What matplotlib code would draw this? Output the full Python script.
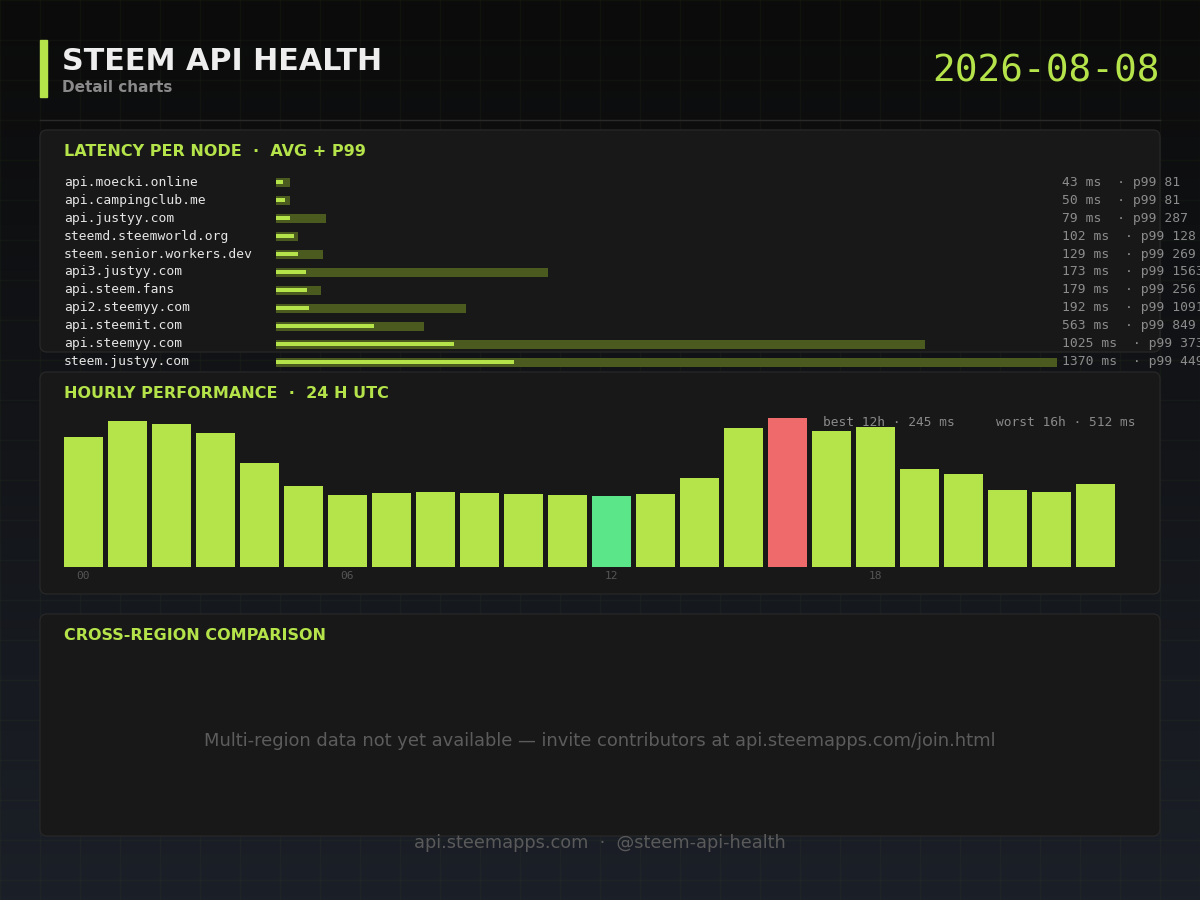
import numpy as np
import matplotlib
matplotlib.use("Agg")
import matplotlib.pyplot as plt
from matplotlib.patches import FancyBboxPatch, Rectangle
from matplotlib.transforms import blended_transform_factory

# ---- data ----
nodes = ["api.moecki.online", "api.campingclub.me", "api.justyy.com",
         "steemd.steemworld.org", "steem.senior.workers.dev", "api3.justyy.com",
         "api.steem.fans", "api2.steemyy.com", "api.steemit.com",
         "api.steemyy.com", "steem.justyy.com"]
avg_ms = [43, 50, 79, 102, 129, 173, 179, 192, 563, 1025, 1370]
p99_ms = [81, 81, 287, 128, 269, 1563, 256, 1091, 849, 3730, 4490]

hours = list(range(24))
hour_ms = [447, 502, 491, 460, 357, 278, 248, 254, 258, 254, 251, 247,
           245, 251, 306, 478, 512, 467, 481, 337, 320, 265, 258, 285]
hour_ticks = [0, 6, 12, 18]

report_date = "2026-08-08"

# ---- colours ----
GREEN = "#b5e34a"
P99_GREEN = "#4b5a1e"
BEST = "#5ce68a"
WORST = "#ef6b6b"
PANEL = "#181818"
PANEL_EDGE = "#262626"
MONO = "DejaVu Sans Mono"

W, H = 1200, 900
fig = plt.figure(figsize=(12, 9), dpi=100)


def px_axes(x0, y0, x1, y1):
    return fig.add_axes([x0 / W, 1 - y1 / H, (x1 - x0) / W, (y1 - y0) / H])


# background canvas in pixel coordinates
bg = fig.add_axes([0, 0, 1, 1])
bg.set_xlim(0, W)
bg.set_ylim(H, 0)
bg.axis("off")
top = np.array([11, 11, 11]) / 255
bot = np.array([27, 31, 39]) / 255
t = np.linspace(0, 1, 256)[:, None]
grad = (top[None, :] * (1 - t) + bot[None, :] * t)[:, None, :]
bg.imshow(grad, extent=(0, W, H, 0), aspect="auto", zorder=0)
for g in range(0, W + 1, 40):
    bg.axvline(g, color="#9adc3c", alpha=0.035, lw=1, zorder=1)
for g in range(0, H + 1, 40):
    bg.axhline(g, color="#9adc3c", alpha=0.035, lw=1, zorder=1)

# header
bg.add_patch(Rectangle((40, 40), 7, 57, color=GREEN, zorder=3))
bg.text(62, 62, "STEEM API HEALTH", color="#eeeeee", fontsize=21.7,
        fontweight="bold", va="center", ha="left", zorder=3)
bg.text(62, 88, "Detail charts", color="#8a8a8a", fontsize=11,
        fontweight="bold", va="center", ha="left", zorder=3)
bg.text(1160, 71, report_date, color=GREEN, fontsize=27.2, family=MONO,
        va="center", ha="right", zorder=3)
bg.plot([40, 1160], [120, 120], color="#2a2a2a", lw=1, zorder=3)

# panels
panels = [(130, 352, "LATENCY PER NODE  ·  AVG + P99"),
          (372, 594, "HOURLY PERFORMANCE  ·  24 H UTC"),
          (614, 836, "CROSS-REGION COMPARISON")]
for y0, y1, title in panels:
    bg.add_patch(FancyBboxPatch((40, y0), 1120, y1 - y0,
                                boxstyle="round,pad=0,rounding_size=7",
                                fc=PANEL, ec=PANEL_EDGE, lw=1, zorder=2))
    bg.text(64, y0 + 22, title, color=GREEN, fontsize=11.5, fontweight="bold",
            va="center", ha="left", zorder=3)

# ---- latency per node ----
ax1 = px_axes(276, 173, 1057, 371)
ax1.set_xlim(0, max(p99_ms))
ax1.set_ylim(len(nodes) - 0.5, -0.5)
ax1.axis("off")
ax1.patch.set_alpha(0)
ypos = np.arange(len(nodes))
ax1.barh(ypos, p99_ms, height=0.5, color=P99_GREEN, left=0)
ax1.barh(ypos, avg_ms, height=0.24, color=GREEN, left=0)
tr = blended_transform_factory(bg.transData, ax1.transData)
for i, name in enumerate(nodes):
    ax1.text(64, i, name, transform=tr, family=MONO, fontsize=9.4,
             color="#e6e6e6", va="center", ha="left", clip_on=False)
    # the reference lets these run past the right edge, so they do here too
    ax1.text(1062, i, f"{avg_ms[i]} ms  · p99 {p99_ms[i]}", transform=tr,
             family=MONO, fontsize=9.4, color="#8c8c8c", va="center",
             ha="left", clip_on=False)

# ---- hourly performance ----
best_h = int(np.argmin(hour_ms))
worst_h = int(np.argmax(hour_ms))
colors = [GREEN] * 24
colors[best_h] = BEST
colors[worst_h] = WORST

ax2 = px_axes(64, 392, 1115, 567)
ax2.patch.set_alpha(0)
ax2.bar(hours, hour_ms, width=0.886, color=colors)
ax2.set_xlim(-0.443, 23.443)
ax2.set_ylim(0, 600)
for s in ax2.spines.values():
    s.set_visible(False)
ax2.set_yticks([])
ax2.set_xticks(hour_ticks)
ax2.set_xticklabels([f"{h:02d}" for h in hour_ticks], family=MONO,
                    fontsize=8, color="#555555")
ax2.tick_params(axis="x", length=0, pad=3)

bg.text(955, 423, f"best {best_h}h · {hour_ms[best_h]} ms", family=MONO,
        fontsize=9.3, color="#8a8a8a", ha="right", va="center", zorder=3)
bg.text(1136, 423, f"worst {worst_h}h · {hour_ms[worst_h]} ms", family=MONO,
        fontsize=9.3, color="#8a8a8a", ha="right", va="center", zorder=3)

# ---- cross region ----
bg.text(600, 741, "Multi-region data not yet available — invite contributors "
        "at api.steemapps.com/join.html", color="#5c5c5c", fontsize=12.9,
        ha="center", va="center", zorder=3)

# footer
bg.text(600, 843, "api.steemapps.com  ·  @steem-api-health", color="#5a5a5a",
        fontsize=12.8, ha="center", va="center", zorder=3)

fig.savefig("out.png", dpi=100, facecolor="#0b0b0b")
